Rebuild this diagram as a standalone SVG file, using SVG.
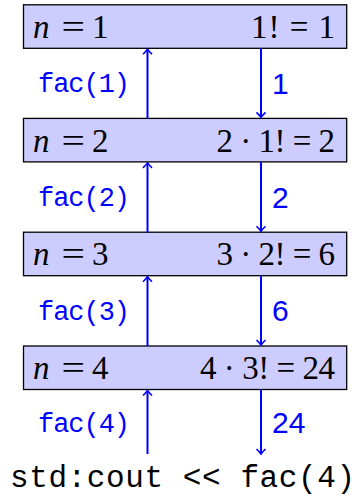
<svg xmlns="http://www.w3.org/2000/svg" width="360" height="495" viewBox="0 0 360 495">
<style>
.box{fill:#ccccff;stroke:#000;stroke-width:1.3}
.math{font-family:"Liberation Serif","DejaVu Serif",serif;font-size:33px;fill:#000}
.it{font-style:italic}
.arr{stroke:#0000ff;stroke-width:2;fill:none;marker-end:url(#to)}
.call{font-family:"Liberation Mono","DejaVu Sans Mono",monospace;font-size:27px;fill:#0000ff}
.ret{font-family:"Liberation Sans","DejaVu Sans",sans-serif;font-size:30px;fill:#0000ff}
.code{font-family:"Liberation Mono","DejaVu Sans Mono",monospace;font-size:31px;fill:#000}
</style>
<defs>
<marker id="to" markerUnits="userSpaceOnUse" markerWidth="12" markerHeight="12" viewBox="-6 -6 12 12" refX="0" refY="0" orient="auto" overflow="visible">
<path d="M -5 -4.5 Q -1.5 -1 0 0 Q -1.5 1 -5 4.5" stroke="#0000ff" stroke-width="1.6" fill="none"/>
</marker>
</defs>

<g id="node1">
<rect class="box" x="23.5" y="4.8" width="323.2" height="43.5"/>
<text class="math" y="38"><tspan class="it" x="33">n</tspan><tspan x="61.5" textLength="23.5" lengthAdjust="spacingAndGlyphs">=</tspan><tspan x="92">1</tspan></text>
<text class="math" y="38" x="251" textLength="84">1! = 1</text>
</g>
<g id="node2">
<rect class="box" x="23.5" y="118.4" width="323.2" height="43.5"/>
<text class="math" y="151.6"><tspan class="it" x="33">n</tspan><tspan x="61.5" textLength="23.5" lengthAdjust="spacingAndGlyphs">=</tspan><tspan x="92">2</tspan></text>
<text class="math" y="151.6" x="216.5" textLength="118.5">2 · 1! = 2</text>
</g>
<g id="node3">
<rect class="box" x="23.5" y="232.2" width="323.2" height="43.5"/>
<text class="math" y="265.4"><tspan class="it" x="33">n</tspan><tspan x="61.5" textLength="23.5" lengthAdjust="spacingAndGlyphs">=</tspan><tspan x="92">3</tspan></text>
<text class="math" y="265.4" x="216.5" textLength="118.5">3 · 2! = 6</text>
</g>
<g id="node4">
<rect class="box" x="23.5" y="346" width="323.2" height="43.5"/>
<text class="math" y="379.2"><tspan class="it" x="33">n</tspan><tspan x="61.5" textLength="23.5" lengthAdjust="spacingAndGlyphs">=</tspan><tspan x="92">4</tspan></text>
<text class="math" y="379.2" x="200" textLength="135">4 · 3! = 24</text>
</g>
<g id="caller">
<text class="code" x="10" y="487" textLength="345">std:cout &lt;&lt; fac(4)</text>
</g>

<g id="connectors">
<line class="arr" x1="147.5" y1="118.4" x2="147.5" y2="49.3"/>
<line class="arr" x1="261" y1="48.3" x2="261" y2="117.4"/>
<line class="arr" x1="147.5" y1="232.2" x2="147.5" y2="162.9"/>
<line class="arr" x1="261" y1="161.9" x2="261" y2="231.2"/>
<line class="arr" x1="147.5" y1="346" x2="147.5" y2="276.7"/>
<line class="arr" x1="261" y1="275.7" x2="261" y2="345"/>
<line class="arr" x1="147.5" y1="454" x2="147.5" y2="390.5"/>
<line class="arr" x1="261" y1="389.5" x2="261" y2="454"/>
<text class="call" x="38" y="92" textLength="92">fac(1)</text>
<text class="call" x="38" y="206" textLength="92">fac(2)</text>
<text class="call" x="38" y="319.5" textLength="92">fac(3)</text>
<text class="call" x="38" y="432" textLength="92">fac(4)</text>
<text class="ret" x="272" y="94.3">1</text>
<text class="ret" x="272" y="208.3">2</text>
<text class="ret" x="272" y="321">6</text>
<text class="ret" x="272" y="432.7">24</text>
</g>
</svg>
